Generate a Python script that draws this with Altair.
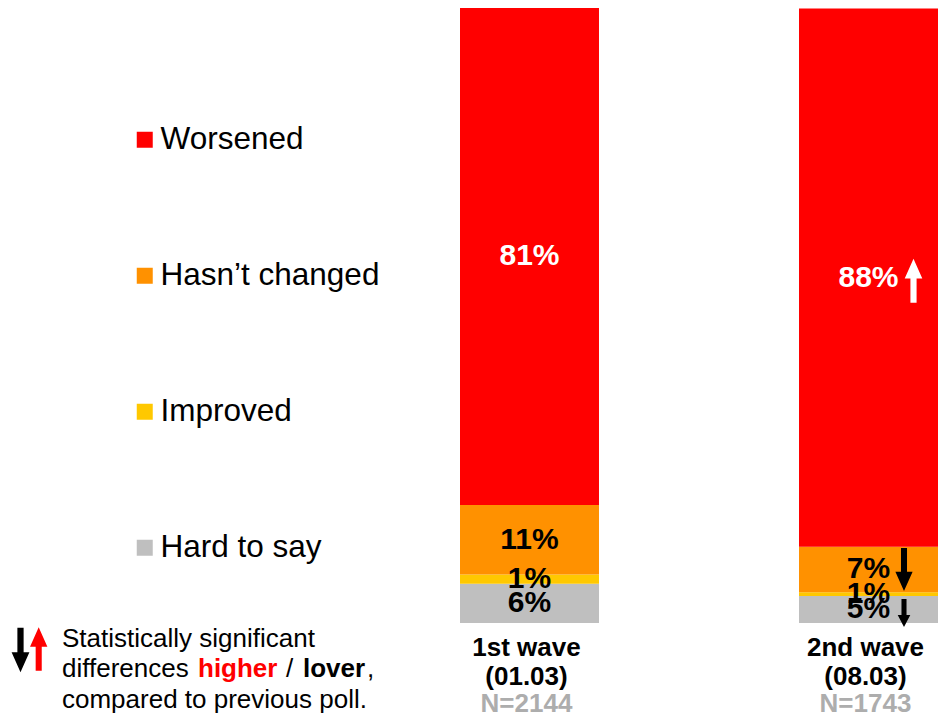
import altair as alt
import pandas as pd

# ---- data ----
waves = ["1st wave", "2nd wave"]
dates = ["(01.03)", "(08.03)"]
sample_sizes = ["N=2144", "N=1743"]
categories = ["Worsened", "Hasn’t changed", "Improved", "Hard to say"]
colors = ["#FF0000", "#FF9100", "#FFC800", "#BFBFBF"]
wave1_values = [80.9, 11.3, 1.5, 6.4]
wave2_values = [87.5, 7.4, 0.6, 4.4]
wave1_labels = ["81%", "11%", "1%", "6%"]
wave2_labels = ["88%", "7%", "1%", "5%"]
sig_higher = [("2nd wave", "Worsened")]
sig_lower = [("2nd wave", "Hasn’t changed"), ("2nd wave", "Hard to say")]

FONT = "Liberation Sans"
UP = "M0,-1L0.4,-0.1L0.14,-0.1L0.14,1L-0.14,1L-0.14,-0.1L-0.4,-0.1Z"
DOWN = "M0,1L0.4,0.1L0.14,0.1L0.14,-1L-0.14,-1L-0.14,0.1L-0.4,0.1Z"
DOWN_SMALL = "M0,1L0.45,0.15L0.18,0.15L0.18,-1L-0.18,-1L-0.18,0.15L-0.45,0.15Z"

rows = []
for wave, vals, labs in [(waves[0], wave1_values, wave1_labels),
                         (waves[1], wave2_values, wave2_labels)]:
    base = 0.0
    for cat, v, lab in reversed(list(zip(categories, vals, labs))):
        rows.append({"wave": wave, "category": cat, "value": v, "label": lab,
                     "y0": base, "y1": base + v, "mid": base + v / 2})
        base += v
df = pd.DataFrame(rows)
wave_df = pd.DataFrame({"wave": waves, "date": dates, "n": sample_sizes})

# step 339, bandwidth 139
x_enc = alt.X("wave:N", scale=alt.Scale(domain=waves, range=[452, 930],
                                        paddingInner=0.59, paddingOuter=0),
              axis=None)
y_scale = alt.Scale(domain=[0, 100], range=[615, 0])

bars = alt.Chart(df).mark_bar().encode(
    x=x_enc,
    y=alt.Y("y0:Q", scale=y_scale, axis=None),
    y2="y1:Q",
    color=alt.Color("category:N",
                    scale=alt.Scale(domain=categories, range=colors),
                    legend=alt.Legend(title=None, orient="none", legendX=121, legendY=116,
                                      symbolType="square", symbolSize=256,
                                      symbolStrokeWidth=0, labelFontSize=31.5,
                                      labelFont=FONT, labelColor="black",
                                      labelLimit=500,
                                      rowPadding=103, labelOffset=0, padding=0,
                                      direction="vertical")),
)

labels = alt.Chart(df).mark_text(font=FONT, fontSize=30, fontWeight="bold",
                                 baseline="middle", align="center").encode(
    x=x_enc,
    y=alt.Y("mid:Q", scale=y_scale, axis=None),
    text="label:N",
    color=alt.condition(alt.datum.category == "Worsened",
                        alt.value("white"), alt.value("black")),
)

def arrow_layer(wave, cat, shape, color, size, dx, dy):
    sub = df[(df.wave == wave) & (df.category == cat)]
    return alt.Chart(sub).mark_point(shape=shape, size=size, filled=True,
                                     color=color, opacity=1, strokeWidth=0,
                                     xOffset=dx, yOffset=dy).encode(
        x=x_enc, y=alt.Y("mid:Q", scale=y_scale, axis=None))

arrows = [
    arrow_layer(sig_higher[0][0], sig_higher[0][1], UP, "white", 1936, 45, 3),
    arrow_layer(sig_lower[0][0], sig_lower[0][1], DOWN, "black", 1849, 35.5, 0),
    arrow_layer(sig_lower[1][0], sig_lower[1][1], DOWN_SMALL, "black", 784, 35.5, 3.5),
]

wave_txt = alt.Chart(wave_df).mark_text(font=FONT, fontSize=26, fontWeight="bold",
                                        baseline="middle", color="black", xOffset=-3).encode(
    x=x_enc, y=alt.value(640), text="wave:N")
date_txt = alt.Chart(wave_df).mark_text(font=FONT, fontSize=26, fontWeight="bold",
                                        baseline="middle", color="black", xOffset=-3).encode(
    x=x_enc, y=alt.value(669), text="date:N")
n_txt = alt.Chart(wave_df).mark_text(font=FONT, fontSize=26, fontWeight="bold",
                                     baseline="middle", color="#ADADAD", xOffset=-3).encode(
    x=x_enc, y=alt.value(696), text="n:N")

def note(text, x, y, bold=False, color="black"):
    return alt.Chart(pd.DataFrame({"t": [text]})).mark_text(
        font=FONT, fontSize=26, fontWeight="bold" if bold else "normal",
        align="left", baseline="alphabetic", color=color).encode(
        x=alt.value(x), y=alt.value(y), text="t:N")

notes = [
    note("Statistically significant", 54, 639),
    note("differences", 54, 669),
    note("higher", 190, 669, bold=True, color="#FF0000"),
    note("/", 278, 669),
    note("lover", 295, 669, bold=True),
    note(",", 359, 669),
    note("compared to previous poll.", 54, 700),
]

key_arrows = [
    alt.Chart(pd.DataFrame({"k": ["lower"]})).mark_point(
        shape=DOWN, size=1980, filled=True, color="black", opacity=1, strokeWidth=0).encode(
        x=alt.value(12.5), y=alt.value(642)),
    alt.Chart(pd.DataFrame({"k": ["higher"]})).mark_point(
        shape=UP, size=1880, filled=True, color="#FF0000", opacity=1, strokeWidth=0).encode(
        x=alt.value(30.7), y=alt.value(641)),
]

chart = alt.layer(bars, labels, *arrows, wave_txt, date_txt, n_txt, *notes, *key_arrows).properties(
    width=930, height=711, padding=0,
    autosize=alt.AutoSizeParams(type="none"),
).configure_view(stroke=None)

chart.save("out.html", embed_options={"renderer": "svg", "actions": False})
